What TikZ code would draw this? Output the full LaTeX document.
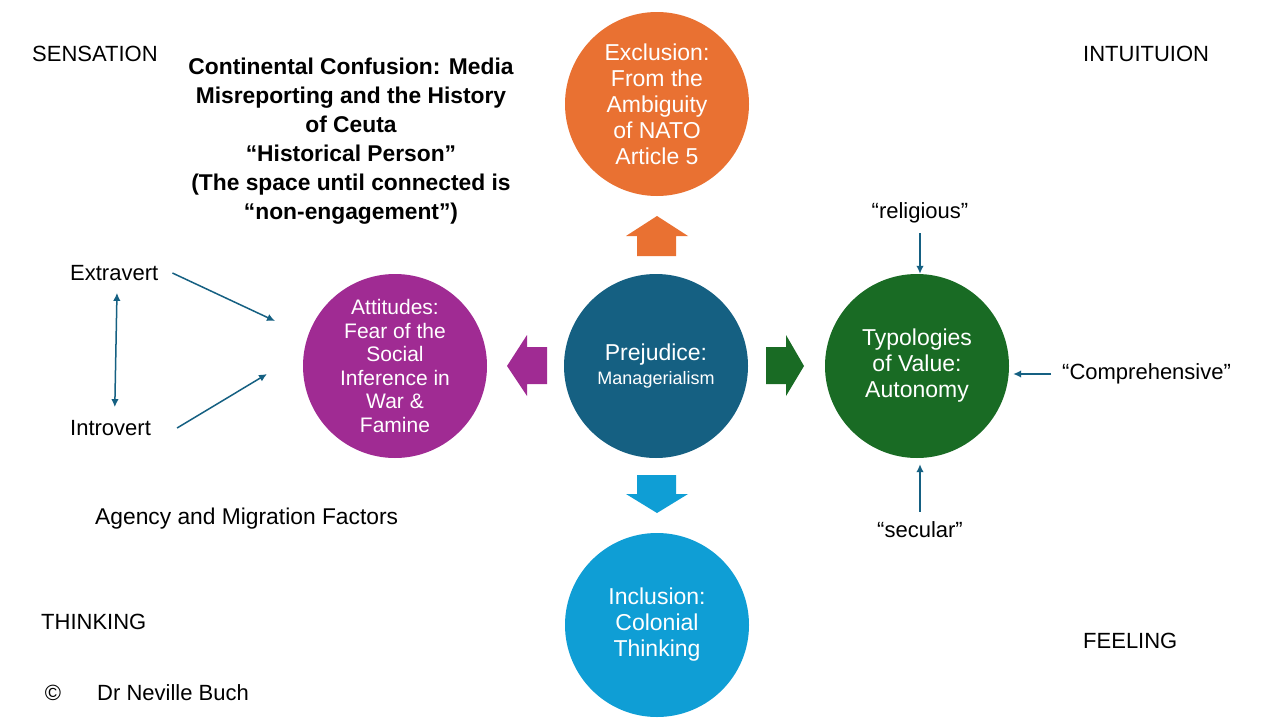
\documentclass[tikz,border=0pt]{standalone}
\usepackage{fontspec}
\setmainfont{Liberation Sans}
\usetikzlibrary{arrows.meta}
\definecolor{DeepTeal}{HTML}{156082}
\definecolor{BurntOrange}{HTML}{E97132}
\definecolor{ForestGreen}{HTML}{196B24}
\definecolor{SkyBlue}{HTML}{0F9ED5}
\definecolor{Plum}{HTML}{A02B93}

\tikzset{
  bubble/.style={circle, inner sep=0pt, minimum size=184pt, text=white, align=center,
    font=\fontsize{23}{26}\selectfont},
  label/.style={inner sep=0pt, font=\fontsize{22}{26}\selectfont},
  link/.style={DeepTeal, line width=1.5pt, -{Latex[length=8pt,width=7.5pt]}},
}

\begin{document}
\begin{tikzpicture}[x=1pt,y=-1pt]
  \useasboundingbox[fill=white] (0,0) rectangle (1280,720);
  % the four bubbles round the centre
  \node[bubble, fill=DeepTeal] (pre) at (656,366)
    {Prejudice:\\[-2pt]{\fontsize{18}{22}\selectfont Managerialism}};
  \node[bubble, fill=BurntOrange] (excl) at (657,104)
    {Exclusion:\\From the\\Ambiguity\\of NATO\\Article 5};
  \node[bubble, fill=Plum, font=\fontsize{21}{23.5}\selectfont] (att) at (395,366)
    {Attitudes:\\Fear of the\\Social\\Inference in\\War \&\\Famine};
  \node[bubble, fill=ForestGreen] (typ) at (917,366)
    {Typologies\\of Value:\\Autonomy};
  \node[bubble, fill=SkyBlue] (incl) at (657,625)
    {Inclusion:\\Colonial\\Thinking};
  % block arrows
  \fill[BurntOrange] (637,256) -- (637,236) -- (626,236) -- (657,216) -- (688,236) -- (676,236) -- (676,256) -- cycle;
  \fill[SkyBlue] (637,475) -- (676,475) -- (676,494) -- (688,494) -- (657,513) -- (626,494) -- (637,494) -- cycle;
  \fill[Plum] (547,347) -- (527,347) -- (527,335) -- (507,366) -- (527,396) -- (527,384) -- (547,384) -- cycle;
  \fill[ForestGreen] (766,347) -- (786,347) -- (786,335) -- (804,366) -- (786,396) -- (786,384) -- (766,384) -- cycle;
  % corner labels
  \node[label, anchor=west] (sens) at (32,54) {SENSATION};
  \node[label, anchor=west] (intu) at (1083,54) {INTUITUION};
  \node[label, anchor=west] (think) at (41,622) {THINKING};
  \node[label, anchor=west] (feel) at (1083,641) {FEELING};
  % title
  \node[align=center, font=\bfseries\fontsize{22.8}{29}\selectfont] (title) at (351,141)
    {Continental Confusion: Media\\Misreporting and the History\\of Ceuta\\``Historical Person''\\(The space until connected is\\``non-engagement'')};
  % left side
  \node[label, anchor=west] (ext) at (70,273) {Extravert};
  \node[label, anchor=west] (intro) at (70,428) {Introvert};
  \node[label, anchor=west, font=\fontsize{22.8}{26}\selectfont] (agency) at (95,519) {Agency and Migration Factors};
  \coordinate (extend) at (275,321);
  \coordinate (introend) at (267,374);
  \draw[link] ([xshift=14pt]ext.east) -- (extend);
  \draw[link] ([xshift=26pt]intro.east) -- (introend);
  \draw[link, {Latex[length=8pt,width=7.5pt]}-{Latex[length=8pt,width=7.5pt]}, shorten <=12pt, shorten >=13pt] ([xshift=3pt]ext.south) -- ([xshift=4pt]intro.north);
  % right side
  \node[label] (rel) at (920,213) {``religious''};
  \node[label, anchor=west] (comp) at (1062,374) {``Comprehensive''};
  \node[label] (sec) at (920,530) {``secular''};
  \draw[link, shorten <=10pt] (rel.south) -- (rel.south |- typ.north);
  \draw[link, shorten <=11pt, shorten >=4pt] (comp.west) -- (comp.west -| typ.east);
  \draw[link, shorten <=10pt, shorten >=6pt] (sec.north) -- (sec.north |- typ.south);
  % footer
  \node[label] (copy) at (53,693) {©};
  \node[label, anchor=west] (author) at (97,693) {Dr Neville Buch};
\end{tikzpicture}
\end{document}
